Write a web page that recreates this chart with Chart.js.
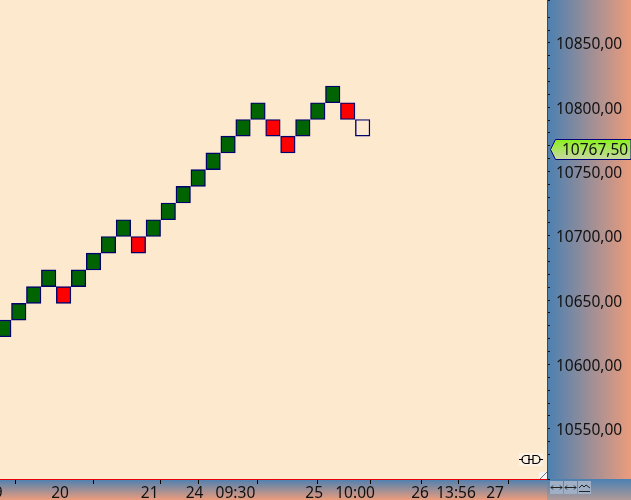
<!DOCTYPE html>
<html>
<head>
<meta charset="utf-8">
<style>
  html, body { margin: 0; padding: 0; background: #fde9ce; overflow: hidden; }
  canvas { display: block; }
</style>
<script src="https://cdn.jsdelivr.net/npm/chart.js@4"></script>
</head>
<body>
<canvas id="renko" width="631" height="500"></canvas>
<script>
// renko columns, box centre price, one box per column
const boxCols = [0, 1, 2, 3, 4, 5, 6, 7, 8, 9, 10, 11, 12, 13, 14, 15, 16, 17, 18, 19, 20, 21, 22, 23, 24];
const boxMid = [10628, 10641, 10654, 10667, 10654, 10667, 10680, 10693, 10706, 10693, 10706, 10719, 10732, 10745, 10758, 10771, 10784, 10797, 10784, 10771, 10784, 10797, 10810, 10797, 10784];
const boxKind = ['up', 'up', 'up', 'up', 'down', 'up', 'up', 'up', 'up', 'down', 'up', 'up', 'up', 'up', 'up', 'up', 'up', 'up', 'down', 'down', 'up', 'up', 'up', 'down', 'open'];
const boxSize = 13;
const timeCols = [-1.43, 3, 9, 12, 14, 20, 22, 27.08, 28.75, 32.1];
const timeLabels = ['19', '20', '21', '24', '09:30', '25', '10:00', '26', '13:56', '27'];
const lastPrice = 10767.5;

const kindColor = { up: '#006400', down: '#ff0000', open: '#fde9ce' };
const fontName = '"Noto Sans", sans-serif';
const fmtPrice = v => v.toFixed(2).replace('.', ',');

const panels = {
  id: 'panels',
  beforeDraw(chart) {
    const { ctx, chartArea: a, width, height } = chart;
    ctx.save();
    ctx.fillStyle = '#fde9ce';
    ctx.fillRect(0, 0, width, height);
    let g = ctx.createLinearGradient(a.right, 0, width, 0);
    g.addColorStop(0, '#4a80b2');
    g.addColorStop(1, '#ec9c7c');
    ctx.fillStyle = g;
    ctx.fillRect(a.right, 0, width - a.right, height);
    g = ctx.createLinearGradient(0, a.bottom, 0, height);
    g.addColorStop(0, '#4a80b2');
    g.addColorStop(1, '#ec9c7c');
    ctx.fillStyle = g;
    ctx.fillRect(0, a.bottom, a.right, height - a.bottom);
    // corner under the price axis, greyer towards the bottom
    g = ctx.createLinearGradient(0, a.bottom, 0, height);
    g.addColorStop(0, '#4a80b2');
    g.addColorStop(1, '#b09a98');
    ctx.fillStyle = g;
    ctx.fillRect(a.right, a.bottom, width - a.right, height - a.bottom);
    ctx.restore();
  },
  afterDraw(chart) {
    const { ctx, chartArea: a, scales } = chart;
    ctx.save();
    // red frame of the plot
    ctx.strokeStyle = '#e8000a';
    ctx.lineWidth = 1;
    ctx.beginPath();
    ctx.moveTo(0, a.bottom + 0.5);
    ctx.lineTo(a.right + 0.5, a.bottom + 0.5);
    ctx.lineTo(a.right + 0.5, 0);
    ctx.stroke();

    // last price tag
    const y = Math.round(scales.y.getPixelForValue(lastPrice));
    const g = ctx.createLinearGradient(0, y - 9, 0, y + 10);
    g.addColorStop(0, '#8cf020');
    g.addColorStop(1, '#c8d8a0');
    ctx.fillStyle = g;
    ctx.strokeStyle = '#000080';
    ctx.beginPath();
    ctx.moveTo(550.5, y + 0.5);
    ctx.lineTo(555.5, y - 9.5);
    ctx.lineTo(631, y - 9.5);
    ctx.lineTo(631, y + 10.5);
    ctx.lineTo(555.5, y + 10.5);
    ctx.closePath();
    ctx.fill();
    ctx.stroke();
    ctx.fillStyle = '#111';
    ctx.font = '15.5px ' + fontName;
    ctx.textBaseline = 'middle';
    ctx.fillText(fmtPrice(lastPrice), 562, y + 2);

    // plug icon
    ctx.fillStyle = '#fdf1e2';
    ctx.fillRect(519, 453, 24, 13);
    ctx.strokeStyle = '#000';
    ctx.lineWidth = 1.2;
    ctx.beginPath();
    ctx.moveTo(519, 459.5); ctx.lineTo(523, 459.5);
    ctx.moveTo(528, 459.5); ctx.lineTo(533, 459.5);
    ctx.moveTo(539, 459.5); ctx.lineTo(543, 459.5);
    ctx.moveTo(529, 455.5); ctx.lineTo(526, 455.5);
    ctx.arc(526, 459.5, 4, -Math.PI / 2, Math.PI / 2, true);
    ctx.lineTo(529, 463.5); ctx.closePath();
    ctx.moveTo(533, 455.5); ctx.lineTo(536, 455.5);
    ctx.arc(536, 459.5, 4, -Math.PI / 2, Math.PI / 2);
    ctx.lineTo(533, 463.5); ctx.closePath();
    ctx.stroke();
    ctx.lineWidth = 1;

    // resize corner
    ctx.fillStyle = '#f4f4f4';
    ctx.fillRect(539, 472, 8, 7);
    ctx.strokeStyle = '#707070';
    ctx.beginPath();
    ctx.moveTo(540, 479); ctx.lineTo(547, 472);
    ctx.stroke();

    // zoom buttons
    [550, 564, 578].forEach((bx, n) => {
      ctx.fillStyle = '#9fb0c6';
      ctx.fillRect(bx, 481, 13, 13);
      ctx.strokeStyle = '#222';
      ctx.beginPath();
      if (n < 2) {
        ctx.moveTo(bx + 1, 487.5); ctx.lineTo(bx + 12, 487.5);
        ctx.moveTo(bx + 3, 485.5); ctx.lineTo(bx + 1, 487.5); ctx.lineTo(bx + 3, 489.5);
        ctx.moveTo(bx + 10, 485.5); ctx.lineTo(bx + 12, 487.5); ctx.lineTo(bx + 10, 489.5);
      } else {
        ctx.moveTo(bx + 1, 488); ctx.lineTo(bx + 4, 485); ctx.lineTo(bx + 6, 487);
        ctx.lineTo(bx + 8, 485); ctx.lineTo(bx + 12, 488);
        ctx.moveTo(bx + 1, 491.5); ctx.lineTo(bx + 12, 491.5);
      }
      ctx.stroke();
    });
    ctx.restore();
  }
};

new Chart(document.getElementById('renko'), {
  type: 'bar',
  data: {
    datasets: [{
      data: boxCols.map((c, i) => ({ x: c, y: [boxMid[i] - boxSize / 2, boxMid[i] + boxSize / 2] })),
      backgroundColor: boxKind.map(k => kindColor[k]),
      borderColor: '#00006e',
      borderWidth: 1.4,
      borderSkipped: false,
      barThickness: 14.5
    }]
  },
  options: {
    responsive: false,
    animation: false,
    layout: { padding: 0 },
    plugins: { legend: { display: false }, tooltip: { enabled: false } },
    scales: {
      x: {
        type: 'linear',
        position: 'bottom',
        offset: false,
        min: -0.254,
        max: 36.33,
        afterBuildTicks(axis) { axis.ticks = timeCols.map(v => ({ value: v })); },
        afterFit(axis) { axis.height = 21; axis.paddingLeft = 0; axis.paddingRight = 0; },
        border: { display: false },
        grid: { drawOnChartArea: false, drawTicks: true, tickLength: 5, tickColor: '#000' },
        ticks: {
          autoSkip: false,
          maxRotation: 0,
          align: 'start',
          labelOffset: 2.5,
          padding: 0,
          color: '#111',
          font: { family: fontName, size: 15.5 },
          callback(v) { return timeLabels[timeCols.indexOf(v)]; }
        }
      },
      y: {
        position: 'right',
        min: 10510.9,
        max: 10883.4,
        afterFit(axis) { axis.width = 84; axis.paddingTop = 0; axis.paddingBottom = 0; },
        border: { display: false },
        grid: { drawOnChartArea: false, drawTicks: true, tickLength: 3, tickColor: '#111' },
        ticks: {
          stepSize: 10,
          autoSkip: false,
          padding: 6,
          labelOffset: 2,
          color: '#111',
          font: { family: fontName, size: 15.5 },
          callback(v) { return v % 50 === 0 ? fmtPrice(v) : ''; }
        }
      }
    }
  },
  plugins: [panels]
});
</script>
</body>
</html>
